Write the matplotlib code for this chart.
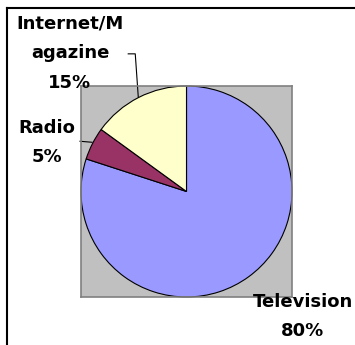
import matplotlib
matplotlib.use("Agg")
from matplotlib import pyplot as plt
from matplotlib.lines import Line2D

# Données du graphique
categories = ["Television", "Radio", "Internet/Magazine"]
valeurs = [80, 5, 15]
etiquettes = [["Television", "80%"], ["Radio", "5%"], ["Internet/M", "agazine", "15%"]]
couleurs = ["#9999FF", "#993366", "#FFFFCC"]

W, H = 355, 345
fig = plt.figure(figsize=(W / 100, H / 100), dpi=100)


# conversion pixels -> fraction de figure
def px(x, y):
    return x / W, 1 - y / H


# cadre noir (haut et gauche)
fig.add_artist(Line2D([7 / W, 7 / W], [0, 1 - 8 / H], color="black", lw=1.5))
fig.add_artist(Line2D([7 / W, 1], [1 - 8 / H, 1 - 8 / H], color="black", lw=1.5))

# zone de tracé grise
x0, y0 = px(81, 297)
ax = fig.add_axes([x0, y0, 211 / W, 211 / H])

wedges, _ = ax.pie(
    valeurs,
    colors=couleurs,
    startangle=90,
    counterclock=False,
    radius=1.0,
    wedgeprops=dict(edgecolor="black", linewidth=0.8),
)
ax.set_frame_on(True)
ax.patch.set_visible(True)
ax.set_facecolor("#C0C0C0")
for s in ax.spines.values():
    s.set_visible(True)
    s.set_color("#808080")
    s.set_linewidth(1.2)
ax.set_xlim(-1, 1)
ax.set_ylim(-1, 1)
ax.set_xticks([])
ax.set_yticks([])
ax.set_aspect("auto")

# étiquettes, une ligne à la fois (ligne de base)
police = dict(fontsize=13, fontweight="bold", family="DejaVu Sans",
              ha="center", va="baseline")
positions = [(303, 307), (47, 133), (70, 29)]
for lignes, (x, y) in zip(etiquettes, positions):
    for i, t in enumerate(lignes):
        fig.text(*px(x, y + 29.5 * i), t, **police)


# lignes de rappel (coordonnées pixels -> données)
def d(x, y):
    return (x - 186) / 105, (192 - y) / 105


pts = [d(138, 98), d(135, 55), d(128, 55)]
ax.plot([p[0] for p in pts], [p[1] for p in pts],
        color="black", lw=0.8, clip_on=False)
pts = [d(92, 143), d(80, 142)]
ax.plot([p[0] for p in pts], [p[1] for p in pts],
        color="black", lw=0.8, clip_on=False)

fig.savefig("out.png", dpi=100)
